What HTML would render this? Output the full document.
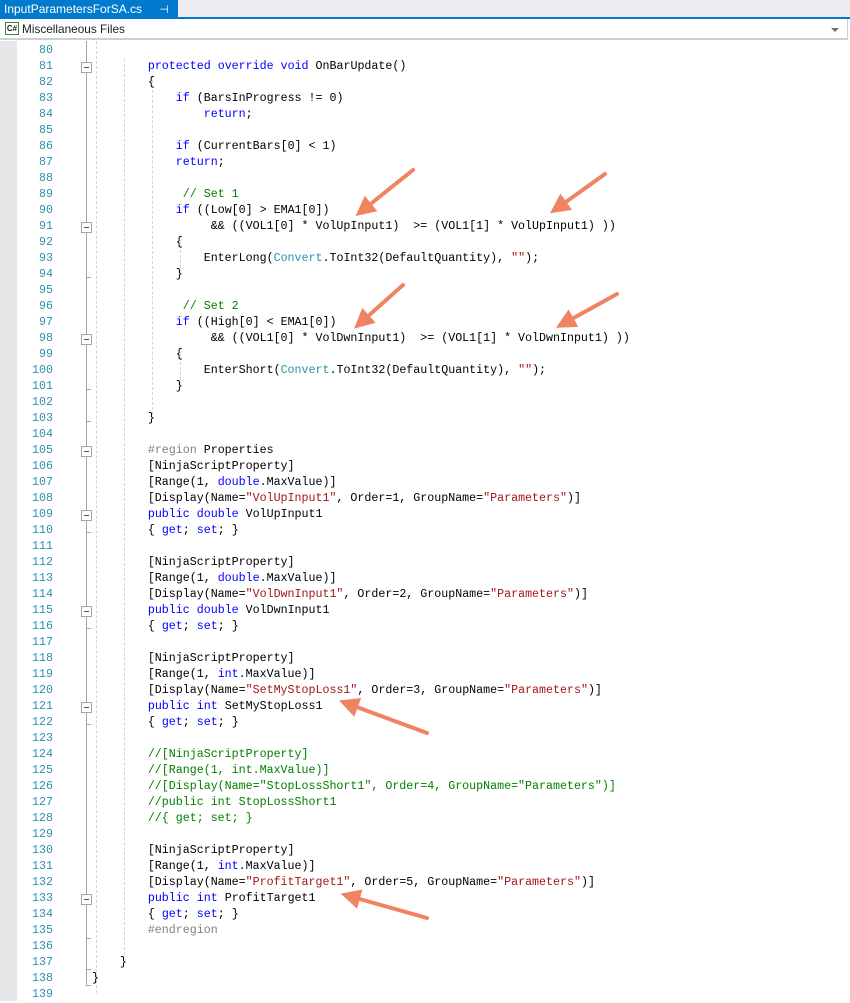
<!DOCTYPE html>
<html><head><meta charset="utf-8"><style>
*{margin:0;padding:0;box-sizing:border-box}
body{width:850px;height:1001px;background:#fff;position:relative;overflow:hidden;font-family:"Liberation Sans",sans-serif}
.top{position:absolute;left:0;top:0;width:850px;height:17px;background:#ececf0}
.tab{position:absolute;left:0;top:0;width:178px;height:19px;background:#007acc;color:#fff;font-size:12px;line-height:18px;padding-left:4px;white-space:nowrap;overflow:hidden}
.blue{position:absolute;left:0;top:17px;width:850px;height:2px;background:#007acc}
.hdr{position:absolute;left:0;top:19px;width:848px;height:21px;background:#fff;border-bottom:2px solid #ccced8;border-right:1px solid #ccced8;font-size:11.8px;line-height:20px;padding-left:22px;color:#1e1e1e}
.cs{position:absolute;left:5px;top:3px;width:14px;height:13px;border:1px solid #388a34;font-size:8px;line-height:11px;text-align:center;font-weight:bold;color:#1e1e1e}
.dd{position:absolute;right:8px;top:9px;border-left:4px solid transparent;border-right:4px solid transparent;border-top:4px solid #717171}
.gm{position:absolute;left:0;top:41px;width:17px;height:960px;background:#e6e7e8}
.ln{position:absolute;left:17px;width:36px;text-align:right;color:#2b91af;font-family:"Liberation Mono",monospace;font-size:11.65px;height:16px;line-height:16px;margin-top:2px}
.c{position:absolute;left:64px;white-space:pre;font-family:"Liberation Mono",monospace;font-size:11.65px;height:16px;line-height:16px;color:#000;margin-top:2px}
.k{color:#0000ff}.t{color:#2b91af}.s{color:#a31515}.g{color:#008000}.r{color:#808080}
.ol{position:absolute;left:86px;width:1px;background:#a5a5a5}
.box{position:absolute;left:81px;width:11px;height:11px;border:1px solid #a5a5a5;background:#fff;margin-top:2px}
.box:after{content:"";position:absolute;left:2px;top:4px;width:5px;height:1px;background:#555}
.tick{position:absolute;left:86px;width:5px;height:1px;background:#a5a5a5;margin-top:2px}
.gd{position:absolute;width:0;border-left:1px dashed #d4d4d4}
</style></head><body>
<div class="top"></div>
<div class="tab">InputParametersForSA.cs <span style="margin-left:14px;font-size:11px">⊣</span><span style="margin-left:10px">✕</span></div>
<div class="blue"></div>
<div class="hdr"><div class="cs">C#</div>Miscellaneous Files<div class="dd"></div></div>
<div class="gm"></div>
<div class="ol" style="top:41px;height:945px"></div>
<div class="gd" style="left:96px;top:41px;height:952px"></div>
<div class="gd" style="left:124px;top:59px;height:896px"></div>
<div class="gd" style="left:152px;top:75px;height:340px"></div>
<div class="gd" style="left:180px;top:235px;height:38px"></div>
<div class="gd" style="left:180px;top:347px;height:38px"></div>
<div class="tick" style="top:419px"></div>
<div class="tick" style="top:530px"></div>
<div class="tick" style="top:626px"></div>
<div class="tick" style="top:722px"></div>
<div class="tick" style="top:936px"></div>
<div class="tick" style="top:967px"></div>
<div class="tick" style="top:983px"></div>
<div class="tick" style="top:275px"></div>
<div class="tick" style="top:387px"></div>
<div class="box" style="top:60px"></div>
<div class="box" style="top:220px"></div>
<div class="box" style="top:332px"></div>
<div class="box" style="top:444px"></div>
<div class="box" style="top:508px"></div>
<div class="box" style="top:604px"></div>
<div class="box" style="top:700px"></div>
<div class="box" style="top:892px"></div>

<div class="ln" style="top:41px">80</div><div class="ln" style="top:57px">81</div><div class="ln" style="top:73px">82</div><div class="ln" style="top:89px">83</div><div class="ln" style="top:105px">84</div><div class="ln" style="top:121px">85</div><div class="ln" style="top:137px">86</div><div class="ln" style="top:153px">87</div><div class="ln" style="top:169px">88</div><div class="ln" style="top:185px">89</div><div class="ln" style="top:201px">90</div><div class="ln" style="top:217px">91</div><div class="ln" style="top:233px">92</div><div class="ln" style="top:249px">93</div><div class="ln" style="top:265px">94</div><div class="ln" style="top:281px">95</div><div class="ln" style="top:297px">96</div><div class="ln" style="top:313px">97</div><div class="ln" style="top:329px">98</div><div class="ln" style="top:345px">99</div><div class="ln" style="top:361px">100</div><div class="ln" style="top:377px">101</div><div class="ln" style="top:393px">102</div><div class="ln" style="top:409px">103</div><div class="ln" style="top:425px">104</div><div class="ln" style="top:441px">105</div><div class="ln" style="top:457px">106</div><div class="ln" style="top:473px">107</div><div class="ln" style="top:489px">108</div><div class="ln" style="top:505px">109</div><div class="ln" style="top:521px">110</div><div class="ln" style="top:537px">111</div><div class="ln" style="top:553px">112</div><div class="ln" style="top:569px">113</div><div class="ln" style="top:585px">114</div><div class="ln" style="top:601px">115</div><div class="ln" style="top:617px">116</div><div class="ln" style="top:633px">117</div><div class="ln" style="top:649px">118</div><div class="ln" style="top:665px">119</div><div class="ln" style="top:681px">120</div><div class="ln" style="top:697px">121</div><div class="ln" style="top:713px">122</div><div class="ln" style="top:729px">123</div><div class="ln" style="top:745px">124</div><div class="ln" style="top:761px">125</div><div class="ln" style="top:777px">126</div><div class="ln" style="top:793px">127</div><div class="ln" style="top:809px">128</div><div class="ln" style="top:825px">129</div><div class="ln" style="top:841px">130</div><div class="ln" style="top:857px">131</div><div class="ln" style="top:873px">132</div><div class="ln" style="top:889px">133</div><div class="ln" style="top:905px">134</div><div class="ln" style="top:921px">135</div><div class="ln" style="top:937px">136</div><div class="ln" style="top:953px">137</div><div class="ln" style="top:969px">138</div><div class="ln" style="top:985px">139</div>

<div class="c" style="top:57px">            <span class="k">protected</span> <span class="k">override</span> <span class="k">void</span> OnBarUpdate()</div>
<div class="c" style="top:73px">            {</div>
<div class="c" style="top:89px">                <span class="k">if</span> (BarsInProgress != 0)</div>
<div class="c" style="top:105px">                    <span class="k">return</span>;</div>
<div class="c" style="top:137px">                <span class="k">if</span> (CurrentBars[0] &lt; 1)</div>
<div class="c" style="top:153px">                <span class="k">return</span>;</div>
<div class="c" style="top:185px">                 <span class="g">// Set 1</span></div>
<div class="c" style="top:201px">                <span class="k">if</span> ((Low[0] &gt; EMA1[0])</div>
<div class="c" style="top:217px">                     &amp;&amp; ((VOL1[0] * VolUpInput1)  &gt;= (VOL1[1] * VolUpInput1) ))</div>
<div class="c" style="top:233px">                {</div>
<div class="c" style="top:249px">                    EnterLong(<span class="t">Convert</span>.ToInt32(DefaultQuantity), <span class="s">""</span>);</div>
<div class="c" style="top:265px">                }</div>
<div class="c" style="top:297px">                 <span class="g">// Set 2</span></div>
<div class="c" style="top:313px">                <span class="k">if</span> ((High[0] &lt; EMA1[0])</div>
<div class="c" style="top:329px">                     &amp;&amp; ((VOL1[0] * VolDwnInput1)  &gt;= (VOL1[1] * VolDwnInput1) ))</div>
<div class="c" style="top:345px">                {</div>
<div class="c" style="top:361px">                    EnterShort(<span class="t">Convert</span>.ToInt32(DefaultQuantity), <span class="s">""</span>);</div>
<div class="c" style="top:377px">                }</div>
<div class="c" style="top:409px">            }</div>
<div class="c" style="top:441px">            <span class="r">#region</span> Properties</div>
<div class="c" style="top:457px">            [NinjaScriptProperty]</div>
<div class="c" style="top:473px">            [Range(1, <span class="k">double</span>.MaxValue)]</div>
<div class="c" style="top:489px">            [Display(Name=<span class="s">"VolUpInput1"</span>, Order=1, GroupName=<span class="s">"Parameters"</span>)]</div>
<div class="c" style="top:505px">            <span class="k">public</span> <span class="k">double</span> VolUpInput1</div>
<div class="c" style="top:521px">            { <span class="k">get</span>; <span class="k">set</span>; }</div>
<div class="c" style="top:553px">            [NinjaScriptProperty]</div>
<div class="c" style="top:569px">            [Range(1, <span class="k">double</span>.MaxValue)]</div>
<div class="c" style="top:585px">            [Display(Name=<span class="s">"VolDwnInput1"</span>, Order=2, GroupName=<span class="s">"Parameters"</span>)]</div>
<div class="c" style="top:601px">            <span class="k">public</span> <span class="k">double</span> VolDwnInput1</div>
<div class="c" style="top:617px">            { <span class="k">get</span>; <span class="k">set</span>; }</div>
<div class="c" style="top:649px">            [NinjaScriptProperty]</div>
<div class="c" style="top:665px">            [Range(1, <span class="k">int</span>.MaxValue)]</div>
<div class="c" style="top:681px">            [Display(Name=<span class="s">"SetMyStopLoss1"</span>, Order=3, GroupName=<span class="s">"Parameters"</span>)]</div>
<div class="c" style="top:697px">            <span class="k">public</span> <span class="k">int</span> SetMyStopLoss1</div>
<div class="c" style="top:713px">            { <span class="k">get</span>; <span class="k">set</span>; }</div>
<div class="c g" style="top:745px">            //[NinjaScriptProperty]</div>
<div class="c g" style="top:761px">            //[Range(1, int.MaxValue)]</div>
<div class="c g" style="top:777px">            //[Display(Name="StopLossShort1", Order=4, GroupName="Parameters")]</div>
<div class="c g" style="top:793px">            //public int StopLossShort1</div>
<div class="c g" style="top:809px">            //{ get; set; }</div>
<div class="c" style="top:841px">            [NinjaScriptProperty]</div>
<div class="c" style="top:857px">            [Range(1, <span class="k">int</span>.MaxValue)]</div>
<div class="c" style="top:873px">            [Display(Name=<span class="s">"ProfitTarget1"</span>, Order=5, GroupName=<span class="s">"Parameters"</span>)]</div>
<div class="c" style="top:889px">            <span class="k">public</span> <span class="k">int</span> ProfitTarget1</div>
<div class="c" style="top:905px">            { <span class="k">get</span>; <span class="k">set</span>; }</div>
<div class="c r" style="top:921px">            #endregion</div>
<div class="c" style="top:953px">        }</div>
<div class="c" style="top:969px">    }</div>

<svg width="850" height="1001" style="position:absolute;left:0;top:0">
<defs><marker id="a" markerWidth="5" markerHeight="5" refX="1" refY="2.5" orient="auto" markerUnits="strokeWidth"><path d="M0,0 L5,2.5 L0,5 Z" fill="#f08462"/></marker></defs>
<g stroke="#f08462" stroke-width="4" stroke-linecap="round" marker-end="url(#a)">
<line x1="413" y1="170" x2="368" y2="206"/>
<line x1="605" y1="174" x2="563" y2="204"/>
<line x1="403" y1="285" x2="366" y2="318"/>
<line x1="617" y1="294" x2="570" y2="320"/>
<line x1="427" y1="733" x2="354" y2="706"/>
<line x1="427" y1="918" x2="356" y2="898"/>
</g>
</svg>
</body></html>
